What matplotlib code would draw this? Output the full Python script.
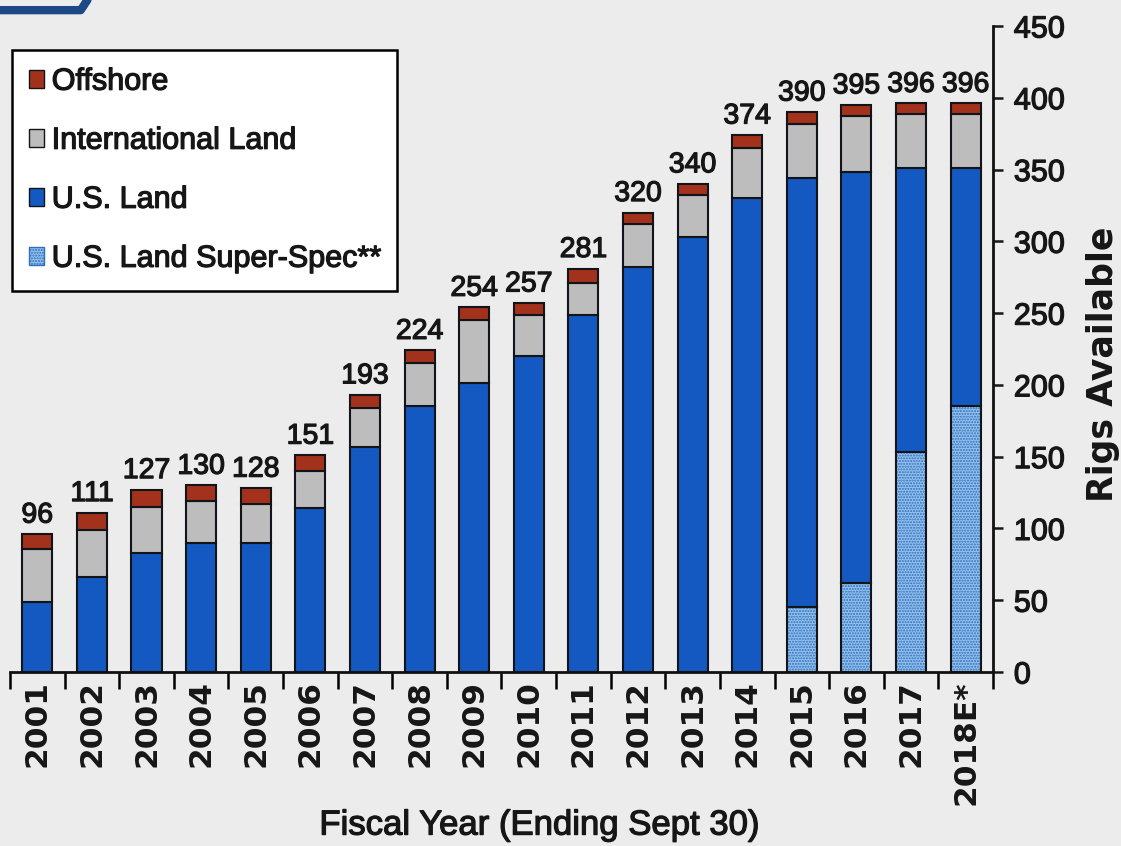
import matplotlib.pyplot as plt
import matplotlib.patheffects as pe
from matplotlib.patches import Patch
from matplotlib.lines import Line2D

# Rig fleet by fiscal year
years = ['2001', '2002', '2003', '2004', '2005', '2006', '2007', '2008', '2009',
         '2010', '2011', '2012', '2013', '2014', '2015', '2016', '2017', '2018E*']
totals = [96, 111, 127, 130, 128, 151, 193, 224, 254, 257, 281, 320, 340, 374,
          390, 395, 396, 396]
super_spec = [0, 0, 0, 0, 0, 0, 0, 0, 0, 0, 0, 0, 0, 0, 45, 62, 153, 185]
us_land = [49, 66, 83, 90, 90, 114, 157, 185, 201, 220, 249, 282, 303, 330,
           299, 286, 198, 166]
intl_land = [37, 33, 32, 29, 27, 26, 27, 30, 44, 29, 22, 30, 29, 35, 38, 39, 38, 38]
offshore = [10, 12, 12, 11, 11, 11, 9, 9, 9, 8, 10, 8, 8, 9, 8, 8, 7, 7]

C_BLUE = '#1459C2'
C_GRAY = '#BDBDBD'
C_RED = '#A3321C'
C_SUPER = '#94C2EC'
C_DOTS = '#2F6DBE'
EDGE = '#111418'
TXT = '#161616'

SANS = ['Liberation Sans', 'DejaVu Sans']
# the slide text is a bit heavier than plain Liberation Sans
heavy = [pe.withStroke(linewidth=0.9, foreground=TXT)]

fig = plt.figure(figsize=(11.21, 8.46), dpi=100, facecolor='#ECECEC')
ax = fig.add_axes([0.0089, 0.2057, 0.8769, 0.7636])
ax.patch.set_visible(False)

x = list(range(len(years)))
w = 0.55

# super-spec: dotted fill then outline on top
ax.bar(x, super_spec, w, color=C_SUPER, edgecolor=C_DOTS, hatch='......', linewidth=0)
ax.bar(x, super_spec, w, fill=False, edgecolor=EDGE, linewidth=1.5)
b1 = super_spec
ax.bar(x, us_land, w, bottom=b1, color=C_BLUE, edgecolor=EDGE, linewidth=1.5)
b2 = [a + b for a, b in zip(b1, us_land)]
ax.bar(x, intl_land, w, bottom=b2, color=C_GRAY, edgecolor=EDGE, linewidth=1.5)
b3 = [a + b for a, b in zip(b2, intl_land)]
ax.bar(x, offshore, w, bottom=b3, color=C_RED, edgecolor=EDGE, linewidth=1.5)

for i, t in enumerate(totals):
    ax.annotate(str(t), (i, t), xytext=(0, 4), textcoords='offset points',
                ha='center', va='bottom', fontsize=20.5, family=SANS, color=TXT,
                path_effects=heavy)

ax.set_xlim(-0.5, len(years) - 0.5)
ax.set_ylim(0, 450)
ax.yaxis.tick_right()
ax.yaxis.set_label_position('right')
ax.set_yticks(range(0, 451, 50))
for lab in ax.get_yticklabels():
    lab.set_family(SANS)
    lab.set_path_effects(heavy)
ax.tick_params(axis='y', direction='out', length=7, width=1.8, labelsize=22, pad=8,
               colors=TXT)

# x ticks sit between the bars, labels under the bars
ax.set_xticks([i - 0.5 for i in range(len(years) + 1)])
ax.set_xticklabels([])
ax.set_xticks(x, minor=True)
ax.set_xticklabels(years, minor=True, rotation=90, fontsize=22.5, fontweight='bold',
                   family='DejaVu Sans', color=TXT)
ax.tick_params(axis='x', which='major', direction='out', length=12, width=1.8)
ax.tick_params(axis='x', which='minor', length=0, pad=6)

for s in ['top', 'left']:
    ax.spines[s].set_visible(False)
for s in ['bottom', 'right']:
    ax.spines[s].set_linewidth(2)
    ax.spines[s].set_color('#111111')

ax.set_ylabel('Rigs Available', fontsize=25, fontweight='bold', family='DejaVu Sans',
              rotation=90, va='center', color=TXT)
ax.yaxis.set_label_coords(1.112, 0.477)
ax.set_xlabel('Fiscal Year (Ending Sept 30)', fontsize=25, family=SANS, va='center',
              color=TXT, path_effects=heavy)
ax.xaxis.set_label_coords(0.539, -0.237)

handles = [Patch(facecolor=C_RED, edgecolor=EDGE, label='Offshore'),
           Patch(facecolor=C_GRAY, edgecolor=EDGE, label='International Land'),
           Patch(facecolor=C_BLUE, edgecolor=EDGE, label='U.S. Land'),
           Patch(facecolor=C_SUPER, edgecolor=C_DOTS, hatch='......',
                 label='U.S. Land Super-Spec**')]
leg = fig.legend(handles=handles, loc='upper left', bbox_to_anchor=(0.0107, 0.941),
                 prop={'family': SANS, 'size': 22}, frameon=True, fancybox=False,
                 edgecolor='black', framealpha=1, handlelength=0.5, handleheight=0.5,
                 handletextpad=0.25, labelspacing=0.95, borderpad=0.55,
                 borderaxespad=0)
leg.get_frame().set_linewidth(1.8)
for txt in leg.get_texts():
    txt.set_color(TXT)
    txt.set_path_effects(heavy)

# piece of the slide's arrow graphic in the corner
fig.add_artist(Line2D([0, 0.072, 0.078], [0.988, 0.988, 1.0], transform=fig.transFigure,
                      color='#1D4A86', linewidth=6, solid_capstyle='round'))

plt.savefig('out.png', dpi=100, facecolor=fig.get_facecolor())
